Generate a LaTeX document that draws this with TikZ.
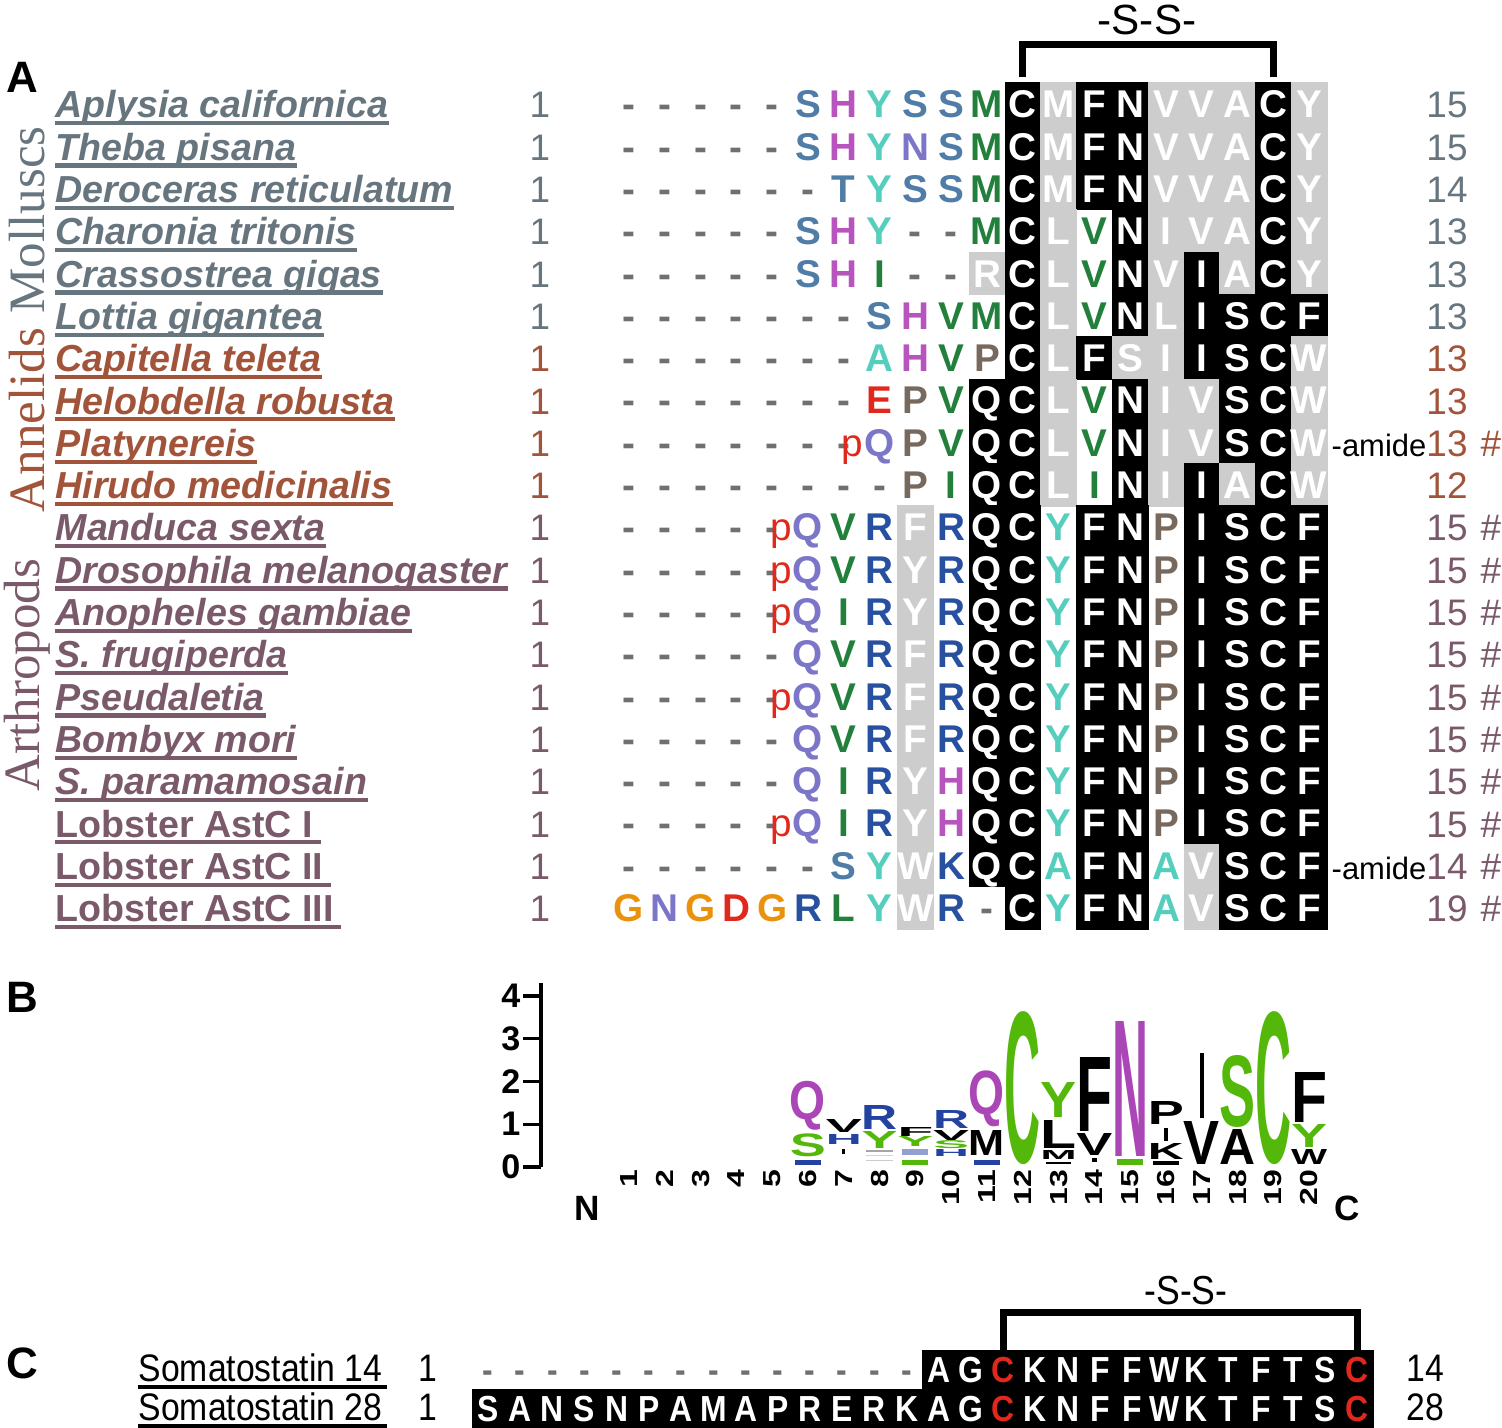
\documentclass[tikz,border=0pt]{standalone}
\usepackage{fontspec}
\usepackage{graphicx}
\setmainfont{Liberation Sans}
\newfontfamily\groupfont{Liberation Serif}
\newfontfamily\narrowfont[FakeStretch=0.88]{Liberation Sans}
\usetikzlibrary{calc,positioning}

\definecolor{molc}{RGB}{103,117,126}
\definecolor{annc}{RGB}{162,84,58}
\definecolor{artc}{RGB}{122,90,106}
\definecolor{shade}{RGB}{205,205,205}
\definecolor{gapc}{RGB}{112,112,112}
\definecolor{steel}{RGB}{80,124,168}
\definecolor{mag}{RGB}{184,84,190}
\definecolor{tealc}{RGB}{86,206,190}
\definecolor{lav}{RGB}{124,118,200}
\definecolor{grn}{RGB}{35,128,60}
\definecolor{blu}{RGB}{40,80,160}
\definecolor{brn}{RGB}{120,105,94}
\definecolor{redc}{RGB}{224,40,28}
\definecolor{org}{RGB}{234,146,12}
\definecolor{lgreen}{RGB}{84,184,10}
\definecolor{lmag}{RGB}{170,70,182}
\definecolor{lblue}{RGB}{36,66,160}

\newlength\pxu
\setlength\pxu{0.01cm}

% residue cells of the alignment
\tikzset{res/.style={inner sep=0, minimum width=0.358cm, minimum height=0.423cm, text height=7.9pt, text depth=0pt, font=\fontsize{11pt}{12pt}\selectfont\bfseries}}
\tikzset{bgw/.style={}, bgk/.style={fill=black, draw=black, line width=0.2pt, text=white}, bgg/.style={fill=shade, draw=shade, line width=0.2pt, text=white},
	bgp/.style={execute at begin node={\llap{\textcolor{redc}{\mdseries p}\kern0.3pt}}}}
\tikzset{fg-/.style={text=gapc, minimum width=0}, fgS/.style={text=steel}, fgT/.style={text=steel}, fgH/.style={text=mag},
	fgY/.style={text=tealc}, fgA/.style={text=tealc}, fgN/.style={text=lav}, fgQ/.style={text=lav},
	fgM/.style={text=grn}, fgV/.style={text=grn}, fgI/.style={text=grn}, fgL/.style={text=grn},
	fgR/.style={text=blu}, fgK/.style={text=blu}, fgP/.style={text=brn}, fgE/.style={text=redc},
	fgD/.style={text=redc}, fgG/.style={text=org}, fgC/.style={}, fgF/.style={}, fgW/.style={}}
\tikzset{bond/.style={line width=2pt}}

\newcommand{\alnrow}[2]{%
	\foreach \ltr/\shd [count=\col] in {#2}
		\node[res, fg\ltr, bg\shd] (r#1c\col) at ({629+(\col-1)*35.8},{104+(#1-1)*42.3}) {\ltr};%
}
\newcommand{\lgch}[6]{\node[logoch, text=#5] (#1) at (#2,#3) {\resizebox*{0.36cm}{#4\pxu}{#6}};}

\begin{document}
\begin{tikzpicture}[x=0.01cm, y=-0.01cm]
	% Default looks
	\tikzstyle{panlab}=[inner sep=0, font=\fontsize{12.5pt}{13pt}\selectfont\bfseries]
	\tikzstyle{grplab}=[rotate=90, inner sep=0, font=\groupfont\fontsize{14.5pt}{15pt}\selectfont]
	\tikzstyle{spname}=[anchor=base west, inner sep=0, font=\fontsize{10.7pt}{12pt}\selectfont\bfseries\itshape]
	\tikzstyle{lobname}=[anchor=base west, inner sep=0, font=\fontsize{10.7pt}{12pt}\selectfont\bfseries]
	\tikzstyle{uline}=[line width=1.2pt]
	\tikzstyle{numtxt}=[anchor=base, inner sep=0, font=\fontsize{10.5pt}{12pt}\selectfont]
	\tikzstyle{amide}=[anchor=base west, inner sep=0, font=\fontsize{8.8pt}{10pt}\selectfont]
	\tikzstyle{logoch}=[inner sep=0, anchor=south, font=\bfseries]
	\tikzstyle{axlab}=[anchor=east, inner sep=0, font=\fontsize{9.7pt}{10pt}\selectfont\bfseries]
	\tikzstyle{lognum}=[rotate=90, anchor=east, inner sep=0, font=\fontsize{7pt}{8pt}\selectfont\bfseries]
	\tikzstyle{sres}=[inner sep=0, minimum width=0.322cm, minimum height=0.39cm, fill=black, draw=black, line width=0.2pt, text height=7.3pt, text depth=0pt, font=\narrowfont\fontsize{10.3pt}{11pt}\selectfont\bfseries]
	\tikzstyle{sgap}=[inner sep=0, text=gapc, text height=7.3pt, text depth=0pt, font=\narrowfont\fontsize{10.3pt}{11pt}\selectfont\bfseries]
	\tikzstyle{somtxt}=[anchor=base west, inner sep=0, font=\narrowfont\fontsize{10.9pt}{12pt}\selectfont]

	\useasboundingbox (0,0) rectangle (1502,1428);

	% PANEL LETTERS
	\node[panlab] (pA) at (22,77) {A};
	\node[panlab] (pB) at (22,997) {B};
	\node[panlab] (pC) at (22,1363) {C};

	% GROUPS
	\node[grplab, text=molc] (gmol) at (27,220) {Molluscs};
	\node[grplab, text=annc] (gann) at (27,420) {Annelids};
	\node[grplab, text=artc] (gart) at (27,675) {Arthropods};

	% SPECIES
	\foreach \r/\nm/\clr in {1/Aplysia californica/molc, 2/Theba pisana/molc, 3/Deroceras reticulatum/molc,
		4/Charonia tritonis/molc, 5/Crassostrea gigas/molc, 6/Lottia gigantea/molc, 7/Capitella teleta/annc,
		8/Helobdella robusta/annc, 9/Platynereis/annc, 10/Hirudo medicinalis/annc, 11/Manduca sexta/artc,
		12/Drosophila melanogaster/artc, 13/Anopheles gambiae/artc, 14/S. frugiperda/artc, 15/Pseudaletia/artc,
		16/Bombyx mori/artc, 17/S. paramamosain/artc} {
		\node[spname, text=\clr] (sp\r) at (55,{118+(\r-1)*42.3}) {\nm};
		\draw[uline, draw=\clr] ([yshift=-1.5pt]sp\r.base west) -- ([yshift=-1.5pt]sp\r.base east);
	}
	\foreach \r/\nm in {18/Lobster AstC I, 19/Lobster AstC II, 20/Lobster AstC III} {
		\node[lobname, text=artc] (sp\r) at (55,{118+(\r-1)*42.3}) {\nm};
		\draw[uline, draw=artc] ([yshift=-1.5pt]sp\r.base west) -- ([yshift=-1.5pt,xshift=2pt]sp\r.base east);
	}

	% START AND END
	\foreach \r/\len/\clr in {1/15/molc, 2/15/molc, 3/14/molc, 4/13/molc, 5/13/molc, 6/13/molc, 7/13/annc,
		8/13/annc, 9/13/annc, 10/12/annc, 11/15/artc, 12/15/artc, 13/15/artc, 14/15/artc, 15/15/artc,
		16/15/artc, 17/15/artc, 18/15/artc, 19/14/artc, 20/19/artc} {
		\node[numtxt, text=\clr] (st\r) at (540,{118+(\r-1)*42.3}) {1};
		\node[numtxt, text=\clr] (en\r) at (1447,{118+(\r-1)*42.3}) {\len};
	}
	\foreach \r/\clr in {9/annc, 11/artc, 12/artc, 13/artc, 14/artc, 15/artc, 16/artc, 17/artc, 18/artc, 19/artc, 20/artc}
		\node[numtxt, text=\clr] (hs\r) at (1491,{118+(\r-1)*42.3}) {\#};

	% ALIGNMENT (p = pyroglutamate)
	\alnrow{1}{-/w,-/w,-/w,-/w,-/w,S/w,H/w,Y/w,S/w,S/w,M/w,C/k,M/g,F/k,N/k,V/g,V/g,A/g,C/k,Y/g}
	\alnrow{2}{-/w,-/w,-/w,-/w,-/w,S/w,H/w,Y/w,N/w,S/w,M/w,C/k,M/g,F/k,N/k,V/g,V/g,A/g,C/k,Y/g}
	\alnrow{3}{-/w,-/w,-/w,-/w,-/w,-/w,T/w,Y/w,S/w,S/w,M/w,C/k,M/g,F/k,N/k,V/g,V/g,A/g,C/k,Y/g}
	\alnrow{4}{-/w,-/w,-/w,-/w,-/w,S/w,H/w,Y/w,-/w,-/w,M/w,C/k,L/g,V/w,N/k,I/g,V/g,A/g,C/k,Y/g}
	\alnrow{5}{-/w,-/w,-/w,-/w,-/w,S/w,H/w,I/w,-/w,-/w,R/g,C/k,L/g,V/w,N/k,V/g,I/k,A/g,C/k,Y/g}
	\alnrow{6}{-/w,-/w,-/w,-/w,-/w,-/w,-/w,S/w,H/w,V/w,M/w,C/k,L/g,V/w,N/k,L/g,I/k,S/k,C/k,F/k}
	\alnrow{7}{-/w,-/w,-/w,-/w,-/w,-/w,-/w,A/w,H/w,V/w,P/w,C/k,L/g,F/k,S/g,I/g,I/k,S/k,C/k,W/g}
	\alnrow{8}{-/w,-/w,-/w,-/w,-/w,-/w,-/w,E/w,P/w,V/w,Q/k,C/k,L/g,V/w,N/k,I/g,V/g,S/k,C/k,W/g}
	\alnrow{9}{-/w,-/w,-/w,-/w,-/w,-/w,-/w,Q/p,P/w,V/w,Q/k,C/k,L/g,V/w,N/k,I/g,V/g,S/k,C/k,W/g}
	\alnrow{10}{-/w,-/w,-/w,-/w,-/w,-/w,-/w,-/w,P/w,I/w,Q/k,C/k,L/g,I/w,N/k,I/g,I/k,A/g,C/k,W/g}
	\alnrow{11}{-/w,-/w,-/w,-/w,-/w,Q/p,V/w,R/w,F/g,R/w,Q/k,C/k,Y/w,F/k,N/k,P/w,I/k,S/k,C/k,F/k}
	\alnrow{12}{-/w,-/w,-/w,-/w,-/w,Q/p,V/w,R/w,Y/g,R/w,Q/k,C/k,Y/w,F/k,N/k,P/w,I/k,S/k,C/k,F/k}
	\alnrow{13}{-/w,-/w,-/w,-/w,-/w,Q/p,I/w,R/w,Y/g,R/w,Q/k,C/k,Y/w,F/k,N/k,P/w,I/k,S/k,C/k,F/k}
	\alnrow{14}{-/w,-/w,-/w,-/w,-/w,Q/w,V/w,R/w,F/g,R/w,Q/k,C/k,Y/w,F/k,N/k,P/w,I/k,S/k,C/k,F/k}
	\alnrow{15}{-/w,-/w,-/w,-/w,-/w,Q/p,V/w,R/w,F/g,R/w,Q/k,C/k,Y/w,F/k,N/k,P/w,I/k,S/k,C/k,F/k}
	\alnrow{16}{-/w,-/w,-/w,-/w,-/w,Q/w,V/w,R/w,F/g,R/w,Q/k,C/k,Y/w,F/k,N/k,P/w,I/k,S/k,C/k,F/k}
	\alnrow{17}{-/w,-/w,-/w,-/w,-/w,Q/w,I/w,R/w,Y/g,H/w,Q/k,C/k,Y/w,F/k,N/k,P/w,I/k,S/k,C/k,F/k}
	\alnrow{18}{-/w,-/w,-/w,-/w,-/w,Q/p,I/w,R/w,Y/g,H/w,Q/k,C/k,Y/w,F/k,N/k,P/w,I/k,S/k,C/k,F/k}
	\alnrow{19}{-/w,-/w,-/w,-/w,-/w,-/w,S/w,Y/w,W/g,K/w,Q/k,C/k,A/w,F/k,N/k,A/w,V/g,S/k,C/k,F/k}
	\alnrow{20}{G/w,N/w,G/w,D/w,G/w,R/w,L/w,Y/w,W/g,R/w,-/w,C/k,Y/w,F/k,N/k,A/w,V/g,S/k,C/k,F/k}

	% amides
	\node[amide] (am9) at (1331,{118+8*42.3}) {-amide};
	\node[amide] (am19) at (1331,{118+18*42.3}) {-amide};

	% disulfide bridge
	\draw[bond] ([yshift=1.5pt]r1c12.north) -- ++(0,-33) -| ([yshift=1.5pt]r1c19.north);
	\node[font=\fontsize{12pt}{13pt}\selectfont, inner sep=0] (ssA) at (1147,20) {-S-S-};

	% LOGO
	\draw[line width=0.9pt] (541,983) -- (541,1167);
	\foreach \v in {0,...,4} {
		\draw[line width=0.9pt] (523,{1167-\v*42.75}) -- (541,{1167-\v*42.75});
		\node[axlab] (ax\v) at (521,{1167-\v*42.75}) {\v};
	}
	\foreach \k in {1,...,20}
		\node[lognum] (ln\k) at ({629+(\k-1)*35.8},1169) {\scalebox{1.3}[1]{\k}};
	\node[panlab, font=\fontsize{10pt}{11pt}\selectfont\bfseries] (lN) at (587,1208) {N};
	\node[panlab, font=\fontsize{10pt}{11pt}\selectfont\bfseries] (lC) at (1347,1208) {C};

	% column 6 to 11
	\fill[lblue] (795,1160) rectangle (821,1165);
	\lgch{lS6}{808}{1158}{23}{lgreen}{S}
	\lgch{lQ6}{808}{1131}{49}{lmag}{Q}
	\fill (842,1149) rectangle (845,1154);
	\lgch{lH7}{843.8}{1145}{10}{lblue}{H}
	\lgch{lV7}{843.8}{1133}{13}{black}{V}
	\fill[gray!70] (866,1150) rectangle (893,1152);
	\fill[pink] (866,1155) rectangle (893,1156);
	\fill[gray!40] (866,1160) rectangle (893,1161);
	\lgch{lY8}{879.6}{1149}{17}{lgreen}{Y}
	\lgch{lR8}{879.6}{1130}{24}{lblue}{R}
	\fill[lgreen] (902,1160) rectangle (928,1165);
	\fill[lblue!50] (902,1149) rectangle (928,1155);
	\lgch{lY9}{915.4}{1147}{10}{lgreen}{Y}
	\lgch{lF9}{915.4}{1137}{9}{black}{F}
	\lgch{lH10}{951.2}{1157}{7}{lblue}{H}
	\lgch{lS10}{951.2}{1149}{8}{lgreen}{S}
	\lgch{lV10}{951.2}{1141}{10}{black}{V}
	\lgch{lR10}{951.2}{1129}{18}{lblue}{R}
	\fill[lblue] (974,1160) rectangle (1000,1165);
	\lgch{lM11}{987}{1156}{25}{black}{M}
	\lgch{lQ11}{987}{1128}{56}{lmag}{Q}

	% column 12 to 20
	\lgch{lC12}{1022.8}{1165}{153}{lgreen}{C}
	\fill (1046,1162) rectangle (1071,1164);
	\lgch{lM13}{1058.6}{1160}{9}{black}{M}
	\lgch{lL13}{1058.6}{1149}{28}{black}{L}
	\lgch{lY13}{1058.6}{1118}{35}{lgreen}{Y}
	\fill (1092,1158) rectangle (1097,1162);
	\lgch{lV14}{1094.4}{1156}{22}{black}{V}
	\lgch{lF14}{1094.4}{1132}{74}{black}{F}
	\fill[lgreen] (1117,1159) rectangle (1143,1165);
	\lgch{lN15}{1130.2}{1157}{135}{lmag}{N}
	\fill (1153,1161) rectangle (1179,1165);
	\lgch{lK16}{1166}{1160}{16}{black}{K}
	\fill (1164,1128) rectangle (1168,1141);
	\lgch{lP16}{1166}{1125}{23}{black}{P}
	\lgch{lV17}{1201.8}{1165}{43}{black}{V}
	\fill (1200,1053) rectangle (1204,1118);
	\lgch{lA18}{1237.6}{1165}{35}{black}{A}
	\lgch{lS18}{1237.6}{1128}{72}{lgreen}{S}
	\lgch{lC19}{1273.4}{1165}{153}{lgreen}{C}
	\lgch{lW20}{1309.2}{1165}{15}{black}{W}
	\lgch{lY20}{1309.2}{1148}{23}{lgreen}{Y}
	\lgch{lF20}{1309.2}{1123}{50}{black}{F}

	% SOMATOSTATIN
	\node[somtxt] (som14) at (138,1382) {Somatostatin 14};
	\node[somtxt] (som28) at (138,1421) {Somatostatin 28};
	\draw[uline] ([yshift=-1.4pt]som14.base west) -- ([yshift=-1.4pt,xshift=1pt]som14.base east);
	\draw[uline] ([yshift=-1.4pt]som28.base west) -- ([yshift=-1.4pt,xshift=1pt]som28.base east);
	\node[somtxt, anchor=base] (sn14) at (428,1382) {1};
	\node[somtxt, anchor=base] (sn28) at (428,1421) {1};
	\node[somtxt, anchor=base] (se14) at (1425,1382) {14};
	\node[somtxt, anchor=base] (se28) at (1425,1421) {28};

	\foreach \k in {1,...,14}
		\node[sgap] (s1c\k) at ({488+(\k-1)*32.2},1369.5) {-};
	\foreach \ltr/\clr [count=\k from 15] in {A/white,G/white,C/redc,K/white,N/white,F/white,F/white,W/white,K/white,T/white,F/white,T/white,S/white,C/redc}
		\node[sres, text=\clr] (s1c\k) at ({488+(\k-1)*32.2},1369.5) {\ltr};
	\foreach \ltr/\clr [count=\k] in {S/white,A/white,N/white,S/white,N/white,P/white,A/white,M/white,A/white,P/white,R/white,E/white,R/white,K/white,A/white,G/white,C/redc,K/white,N/white,F/white,F/white,W/white,K/white,T/white,F/white,T/white,S/white,C/redc}
		\node[sres, text=\clr] (s2c\k) at ({488+(\k-1)*32.2},1408.5) {\ltr};

	% disulfide bridge
	\draw[bond] (s1c17.north) -- ++(0,-37) -| (s1c28.north);
	\node[font=\narrowfont\fontsize{11.5pt}{12pt}\selectfont, inner sep=0] (ssC) at (1186,1291) {-S-S-};
\end{tikzpicture}
\end{document}
